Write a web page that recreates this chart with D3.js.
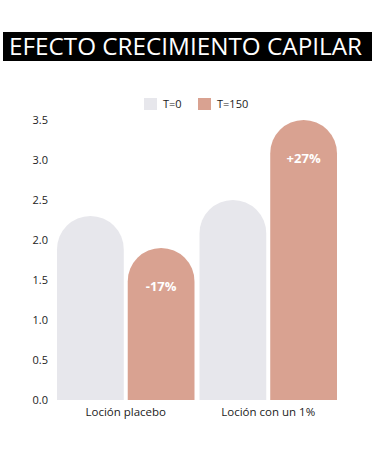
<!DOCTYPE html>
<html>
<head>
<meta charset="utf-8">
<script src="https://cdn.jsdelivr.net/npm/d3@7"></script>
<style>
  body { margin: 0; background: #fff; }
  text { font-family: "Open Sans", "DejaVu Sans", sans-serif; }
</style>
</head>
<body>
<div id="chart"></div>
<script>
// data
var categories = ["Loción placebo", "Loción con un 1%"];
var seriesNames = ["T=0", "T=150"];
var t0Values = [2.3, 2.5];
var t150Values = [1.9, 3.5];
var changeLabels = ["-17%", "+27%"];
var yTicks = [0, 0.5, 1, 1.5, 2, 2.5, 3, 3.5];

var colors = ["#e7e7ec", "#d9a291"];

var W = 375, H = 450;
var svg = d3.select("#chart")
  .append("svg")
    .attr("width", W)
    .attr("height", H);

// title bar
svg.append("rect")
  .attr("x", 3).attr("y", 32)
  .attr("width", 369).attr("height", 29)
  .attr("fill", "#000");
svg.append("text")
  .attr("x", 9).attr("y", 55)
  .attr("fill", "#fff")
  .attr("font-size", 23)
  .attr("font-weight", 400)
  .attr("textLength", 353)
  .attr("lengthAdjust", "spacingAndGlyphs")
  .text("EFECTO CRECIMIENTO CAPILAR");

// legend
var legendX = [144, 198];
seriesNames.forEach(function(name, i) {
  svg.append("rect")
    .attr("x", legendX[i]).attr("y", 98)
    .attr("width", 13).attr("height", 12)
    .attr("fill", colors[i]);
  svg.append("text")
    .attr("x", legendX[i] + 19).attr("y", 108)
    .attr("font-size", 11)
    .attr("fill", "#222")
    .text(name);
});

// scales
var x0 = d3.scaleBand()
  .domain(categories)
  .range([57, 337])
  .paddingInner(0.035)
  .paddingOuter(0);
var x1 = d3.scaleBand()
  .domain(seriesNames)
  .range([0, x0.bandwidth()])
  .paddingInner(0.056);
var y = d3.scaleLinear()
  .domain([0, 3.5])
  .range([400, 120]);

// y axis labels only
var yAxis = svg.append("g")
  .attr("transform", "translate(48,0)")
  .call(d3.axisLeft(y).tickValues(yTicks).tickFormat(d3.format(".1f")).tickSize(0).tickPadding(0));
yAxis.select(".domain").remove();
yAxis.selectAll("text")
  .attr("font-size", 11)
  .attr("font-family", "'Open Sans', sans-serif")
  .attr("fill", "#222");

// bars with rounded tops
function barPath(xs, w, yTop, yBase) {
  var r = w / 2;
  return "M" + xs + "," + yBase +
    "L" + xs + "," + (yTop + r) +
    "A" + r + "," + r + " 0 0 1 " + (xs + w) + "," + (yTop + r) +
    "L" + (xs + w) + "," + yBase + "Z";
}

var rows = categories.map(function(c, i) {
  return { cat: c, vals: [t0Values[i], t150Values[i]], label: changeLabels[i] };
});

var groups = svg.selectAll(".grp")
  .data(rows)
  .enter().append("g")
    .attr("class", "grp")
    .attr("transform", d => "translate(" + x0(d.cat) + ",0)");

groups.selectAll("path")
  .data(d => d.vals.map((v, j) => ({ s: seriesNames[j], v: v, j: j })))
  .enter().append("path")
    .attr("d", d => barPath(x1(d.s), x1.bandwidth(), y(d.v), y(0)))
    .attr("fill", d => colors[d.j]);

groups.append("text")
  .attr("x", x1("T=150") + x1.bandwidth() / 2)
  .attr("y", d => y(d.vals[1]) + 43)
  .attr("text-anchor", "middle")
  .attr("fill", "#fff")
  .attr("font-weight", 700)
  .attr("font-size", 13)
  .text(d => d.label);

// category labels
groups.append("text")
  .attr("x", x0.bandwidth() / 2)
  .attr("y", 416)
  .attr("text-anchor", "middle")
  .attr("font-size", 11.5)
  .attr("fill", "#222")
  .text(d => d.cat);
</script>
</body>
</html>
